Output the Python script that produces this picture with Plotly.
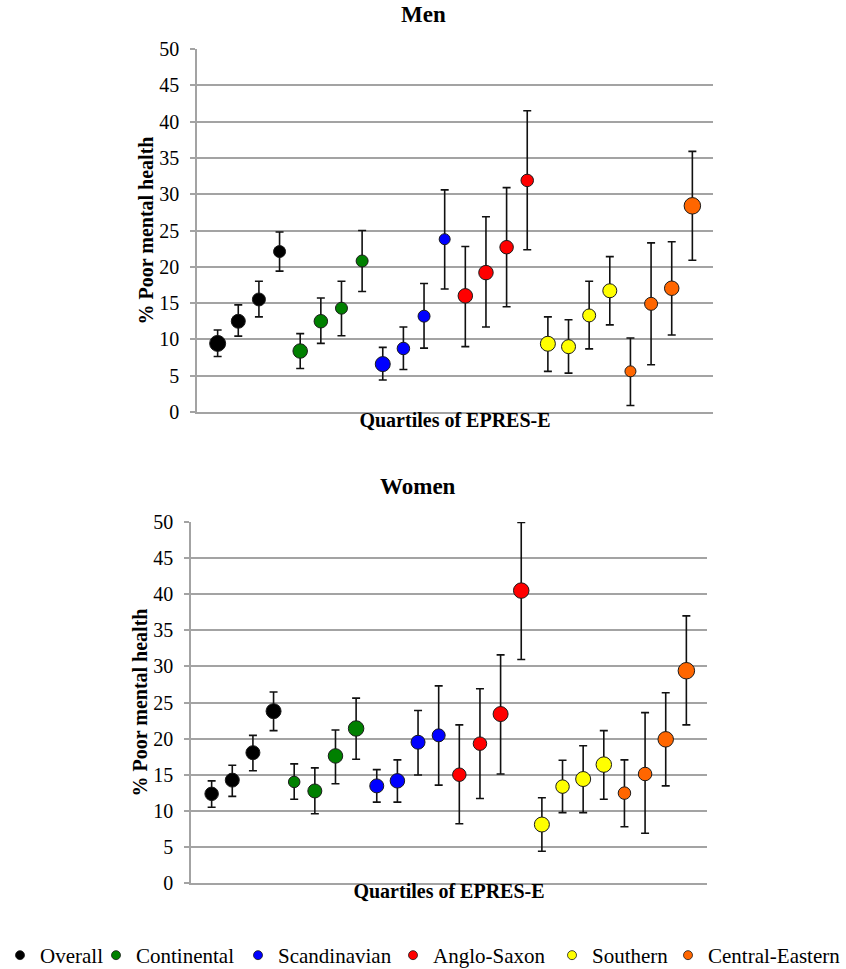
import plotly.graph_objects as go

W, H = 846, 969
groups = ["Overall", "Continental", "Scandinavian", "Anglo-Saxon", "Southern", "Central-Eastern"]
colors = ["#000000", "#008000", "#0000ff", "#ff0000", "#ffff00", "#ff6600"]
quartile_pos = list(range(1, 25))

# Men: prevalence, upper CI, lower CI (4 quartiles per group, group order as above)
men_val = [9.45, 12.5, 15.5, 22.1, 8.4, 12.5, 14.3, 20.8, 6.6, 8.75, 13.2, 23.8,
           16.0, 19.2, 22.7, 31.9, 9.4, 9.0, 13.3, 16.7, 5.6, 14.9, 17.05, 28.4]
men_hi = [11.3, 14.75, 18.0, 24.8, 10.8, 15.7, 18.0, 25.0, 8.9, 11.7, 17.7, 30.6,
          22.8, 26.9, 30.9, 41.5, 13.1, 12.7, 18.0, 21.4, 10.2, 23.3, 23.45, 35.9]
men_lo = [7.65, 10.45, 13.1, 19.4, 6.0, 9.45, 10.5, 16.6, 4.4, 5.85, 8.8, 16.95,
          9.0, 11.7, 14.5, 22.35, 5.6, 5.35, 8.7, 12.0, 0.9, 6.5, 10.6, 20.9]
men_marker_px = [17, 15, 14, 13, 15.5, 14.5, 13, 13, 16, 13.5, 13, 12,
                 15.5, 15.5, 14.5, 13.5, 16, 15, 14, 15, 12, 14, 15.5, 17.5]

# Women
women_val = [12.35, 14.25, 18.05, 23.8, 14.0, 12.75, 17.6, 21.4, 13.45, 14.15, 19.5, 20.45,
             15.0, 19.3, 23.4, 40.5, 8.1, 13.35, 14.4, 16.4, 12.45, 15.1, 19.9, 29.4]
women_hi = [14.15, 16.3, 20.45, 26.45, 16.5, 15.95, 21.2, 25.6, 15.7, 17.05, 23.9, 27.3,
            21.9, 26.9, 31.6, 49.95, 11.8, 17.0, 19.0, 21.1, 17.05, 23.6, 26.35, 37.0]
women_lo = [10.5, 12.0, 15.55, 21.1, 11.6, 9.6, 13.75, 17.15, 11.2, 11.2, 14.95, 13.55,
            8.2, 11.7, 15.1, 30.95, 4.4, 9.75, 9.75, 11.6, 7.8, 6.9, 13.45, 21.9]
women_marker_px = [14.5, 15, 15, 16, 12.5, 15, 15.5, 16.5, 15, 15.5, 15, 14,
                   14.5, 14.5, 16, 16.5, 16, 14.5, 16, 16.5, 13.5, 14.5, 16.5, 17.5]

y_ticks = [0, 5, 10, 15, 20, 25, 30, 35, 40, 45, 50]

FONT = "Liberation Serif"
GRID = "#a3a3a3"

fig = go.Figure()

def add_panel(vals, his, los, sizes, xa, ya):
    for g in range(6):
        sl = slice(4 * g, 4 * g + 4)
        v = vals[sl]
        fig.add_trace(go.Scatter(
            x=quartile_pos[sl], y=v, xaxis=xa, yaxis=ya, mode="markers",
            showlegend=False, name=groups[g],
            marker=dict(color=colors[g], size=[s - 1 for s in sizes[sl]], opacity=1,
                        line=dict(color="#1a1a1a", width=1)),
            error_y=dict(type="data", symmetric=False,
                         array=[h - a for h, a in zip(his[sl], v)],
                         arrayminus=[a - l for l, a in zip(los[sl], v)],
                         color="#111111", thickness=1.6, width=4),
        ))

add_panel(men_val, men_hi, men_lo, men_marker_px, "x", "y")
add_panel(women_val, women_hi, women_lo, women_marker_px, "x2", "y2")

# one legend per group so the entries sit where the original key places them
legend_names = ["legend", "legend2", "legend3", "legend4", "legend5", "legend6"]
for g in range(6):
    fig.add_trace(go.Scatter(x=[None], y=[None], mode="markers", name=groups[g],
                             legend=legend_names[g],
                             marker=dict(color=colors[g], size=9, line=dict(color="#1a1a1a", width=0.8)),
                             showlegend=True))

legend_left_px = [0, 96, 238, 393, 552, None]
legend_layout = {}
for g in range(6):
    lg = dict(orientation="h", y=-7 / H, yanchor="bottom",
              font=dict(family=FONT, size=21, color="#000"), itemwidth=30,
              bgcolor="rgba(0,0,0,0)")
    if legend_left_px[g] is None:
        lg.update(x=1, xanchor="right")
    else:
        lg.update(x=legend_left_px[g] / W, xanchor="left")
    legend_layout[legend_names[g]] = lg

def xaxis(dom, anchor):
    return dict(domain=dom, anchor=anchor, range=[0, 25], showgrid=False, zeroline=False,
                showticklabels=False, ticks="", showline=True, linecolor=GRID, linewidth=1.5,
                title=dict(text="<b>Quartiles of EPRES-E</b>", font=dict(family=FONT, size=20, color="#000"),
                           standoff=0))

def yaxis(dom, anchor):
    return dict(domain=dom, anchor=anchor, range=[0, 50], tickvals=y_ticks, showgrid=True,
                gridcolor=GRID, gridwidth=1.5, zeroline=False, showline=True, linecolor=GRID,
                linewidth=1.5, ticks="outside", ticklen=5, tickcolor=GRID, tickwidth=1.5,
                ticklabelstandoff=7,
                tickfont=dict(family=FONT, size=20, color="#000"),
                title=dict(text="<b>% Poor mental health</b>", font=dict(family=FONT, size=20, color="#000"),
                           standoff=0))

fig.update_layout(
    width=W, height=H, margin=dict(l=0, r=0, t=0, b=0, autoexpand=False),
    paper_bgcolor="white", plot_bgcolor="white",
    xaxis=xaxis([197 / W, 713 / W], "y"),
    yaxis=yaxis([1 - 412 / H, 1 - 49 / H], "x"),
    xaxis2=xaxis([191 / W, 707 / W], "y2"),
    yaxis2=yaxis([1 - 883 / H, 1 - 522 / H], "x2"),
    annotations=[
        dict(text="<b>Men</b>", x=424 / W, y=1 - 14 / H, xref="paper", yref="paper",
             showarrow=False, font=dict(family=FONT, size=23, color="#000"), yanchor="middle"),
        dict(text="<b>Women</b>", x=418 / W, y=1 - 487 / H, xref="paper", yref="paper",
             showarrow=False, font=dict(family=FONT, size=23, color="#000"), yanchor="middle"),
    ],
    **legend_layout,
)

fig.write_html("out.html", config={"displayModeBar": False},
               post_script="document.body.style.margin='0px';")
